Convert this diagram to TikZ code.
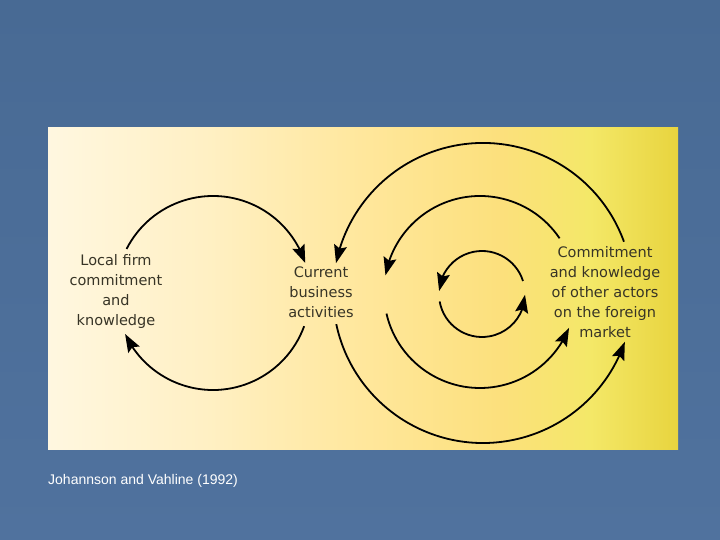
\documentclass[tikz,border=0pt]{standalone}
\usepackage{fontspec}
\newfontfamily\diagfont{DejaVu Sans}
\newfontfamily\capfont{Liberation Sans}
\usetikzlibrary{arrows.meta,bending}
\definecolor{bgtop}{RGB}{72,106,148}
\definecolor{bgbot}{RGB}{80,114,158}
\definecolor{txt}{RGB}{55,52,38}
\definecolor{p1}{RGB}{255,247,224}
\definecolor{p2}{RGB}{255,240,196}
\definecolor{p3}{RGB}{255,231,156}
\definecolor{p4}{RGB}{252,224,124}
\definecolor{p5}{RGB}{244,232,104}
\definecolor{p6}{RGB}{232,212,62}
\pgfdeclarehorizontalshading{panel}{100bp}{color(0bp)=(p1); color(25bp)=(p1); color(37.5bp)=(p2); color(50bp)=(p3); color(61bp)=(p4); color(68bp)=(p5); color(75bp)=(p6); color(100bp)=(p6)}
\tikzset{
  lbl/.style={align=center, text=txt, inner sep=0pt,
    font=\diagfont\fontsize{14.5}{20}\selectfont},
  loopline/.style={draw=black, line width=1.8pt,
    -{Stealth[length=18pt,width=13pt,inset=3pt]}}
}
\begin{document}
\begin{tikzpicture}[x=1pt,y=1pt]
\useasboundingbox (0,0) rectangle (720,540);
\shade[top color=bgtop, bottom color=bgbot] (0,0) rectangle (720,540);
\shade[shading=panel] (48,90) rectangle (678,412);

\node[lbl] (local) at (116,248) {Local firm\\commitment\\and\\knowledge};
\node[lbl] (current) at (321,248) {Current\\business\\activities};
\node[lbl] (other) at (605,247.5) {Commitment\\and knowledge\\of other actors\\on the foreign\\market};

\coordinate (lc) at (213,247);
\coordinate (oc) at (483,247);
\coordinate (mc) at (480,248);
\coordinate (ic) at (482,246);

% left loop
\draw[loopline] ([shift={(153:97)}]lc) arc[start angle=153,end angle=18,radius=97];
\draw[loopline] ([shift={(-20:97)}]lc) arc[start angle=-20,end angle=-155,radius=97];
% outer right loop
\draw[loopline] ([shift={(20:150)}]oc) arc[start angle=20,end angle=168.5,radius=150];
\draw[loopline] ([shift={(192:150)}]oc) arc[start angle=192,end angle=341,radius=150];
% middle right loop
\draw[loopline] ([shift={(34:96)}]mc) arc[start angle=34,end angle=170,radius=96];
\draw[loopline] ([shift={(193:96)}]mc) arc[start angle=193,end angle=338,radius=96];
% inner right loop
\draw[loopline] ([shift={(17.6:43)}]ic) arc[start angle=17.6,end angle=176,radius=43];
\draw[loopline] ([shift={(190:43)}]ic) arc[start angle=190,end angle=359,radius=43];

\node[anchor=west, text=white, inner sep=0pt, font=\capfont\fontsize{14}{16}\selectfont] (cap) at (48,59) {Johannson and Vahline (1992)};
\end{tikzpicture}
\end{document}
